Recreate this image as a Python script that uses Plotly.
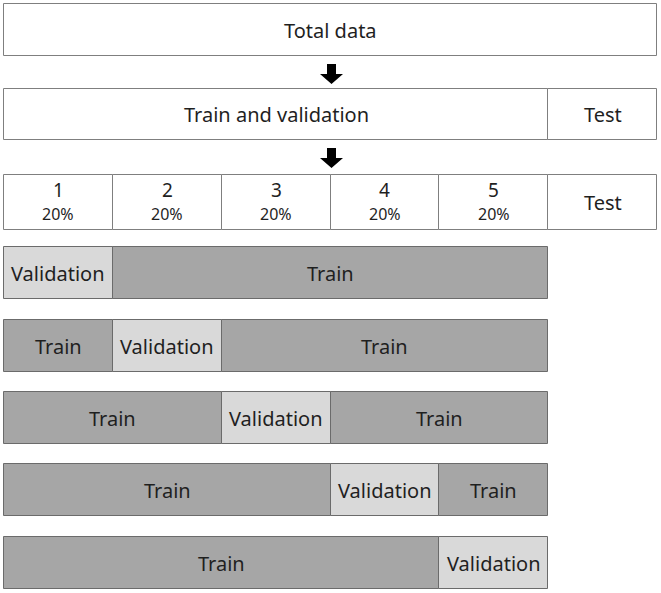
import plotly.graph_objects as go

# ---------------- data ----------------
top_label = "Total data"
split_labels = ["Train and validation", "Test"]
split_shares = [100, 20]              # percent of train+val block, test block
fold_names = ["1", "2", "3", "4", "5"]
fold_shares = [20, 20, 20, 20, 20]    # percent per fold
fold_share_labels = ["20%", "20%", "20%", "20%", "20%"]
test_label = "Test"
train_label = "Train"
val_label = "Validation"
validation_fold = [1, 2, 3, 4, 5]     # validation fold for each CV iteration

# ---------------- style / layout ----------------
W, H = 661, 593
PX_PER_UNIT = 653 / 120.0
LEFT_PX = 4
FONT = "Noto Sans"
TXT = "#1f1f1f"
EDGE_WHITE = "#7f7f7f"
EDGE_GRAY = "#6b6b6b"
TRAIN_C = "#a6a6a6"
VAL_C = "#d9d9d9"

# vertical bands (top, bottom) in pixel-like y units
band_total = (4, 56)
band_split = (89, 140)
band_folds = (175, 230)
cv_tops = [247, 320, 392, 464, 537]
cv_h = 52
arrows = [(64, 84), (148, 168)]

fig = go.Figure()


def add_segments(segs, band, edge):
    """segs: list of (start, width, fill)"""
    top, bot = band
    for start, width, fill in segs:
        fig.add_trace(go.Bar(
            orientation="h",
            y=[(top + bot) / 2], x=[width], base=[start],
            width=[bot - top],
            marker=dict(color=fill, line=dict(color=edge, width=1)),
            hoverinfo="skip", showlegend=False,
        ))


def add_text(xc, yc, text, size=20):
    fig.add_annotation(x=xc, y=yc, text=text, showarrow=False,
                       font=dict(family=FONT, size=size, color=TXT),
                       xanchor="center", yanchor="middle")


total_units = sum(split_shares)

# Total data
add_segments([(0, total_units, "white")], band_total, EDGE_WHITE)
add_text(total_units / 2, sum(band_total) / 2, top_label)

# Train/val + test
pos = 0
segs = []
for lab, sh in zip(split_labels, split_shares):
    segs.append((pos, sh, "white"))
    pos += sh
add_segments(segs, band_split, EDGE_WHITE)
pos = 0
for lab, sh in zip(split_labels, split_shares):
    add_text(pos + sh / 2, sum(band_split) / 2, lab)
    pos += sh

# Folds row
pos = 0
segs = []
for sh in fold_shares:
    segs.append((pos, sh, "white"))
    pos += sh
segs.append((pos, split_shares[1], "white"))
add_segments(segs, band_folds, EDGE_WHITE)
pos = 0
for name, sh, pl in zip(fold_names, fold_shares, fold_share_labels):
    add_text(pos + sh / 2, 190, name, 19)
    add_text(pos + sh / 2, 214, pl, 16)
    pos += sh
add_text(pos + split_shares[1] / 2, sum(band_folds) / 2, test_label)

# CV iterations
for top, vf in zip(cv_tops, validation_fold):
    band = (top, top + cv_h)
    yc = top + cv_h / 2
    vstart = sum(fold_shares[:vf - 1])
    vw = fold_shares[vf - 1]
    segs = []
    if vstart > 0:
        segs.append((0, vstart, TRAIN_C))
    segs.append((vstart, vw, VAL_C))
    rest = sum(fold_shares) - (vstart + vw)
    if rest > 0:
        segs.append((vstart + vw, rest, TRAIN_C))
    add_segments(segs, band, EDGE_GRAY)
    for s, w, c in segs:
        add_text(s + w / 2, yc, val_label if c == VAL_C else train_label)

# Arrows (block arrows pointing down)
cx = total_units / 2 + 1 / PX_PER_UNIT
sh_half = 4.5 / PX_PER_UNIT
hd_half = 11.5 / PX_PER_UNIT
for y0, y1 in arrows:
    yh = y0 + 10
    path = (f"M {cx - sh_half} {y0} L {cx + sh_half} {y0} L {cx + sh_half} {yh} "
            f"L {cx + hd_half} {yh} L {cx} {y1} L {cx - hd_half} {yh} "
            f"L {cx - sh_half} {yh} Z")
    fig.add_shape(type="path", path=path, xref="x", yref="y",
                  fillcolor="black", line=dict(width=0))

fig.update_layout(
    width=W, height=H,
    margin=dict(l=0, r=0, t=0, b=0),
    paper_bgcolor="white", plot_bgcolor="white",
    barmode="overlay", bargap=0,
    xaxis=dict(range=[-LEFT_PX / PX_PER_UNIT, (W - LEFT_PX) / PX_PER_UNIT],
               visible=False, fixedrange=True),
    yaxis=dict(range=[H, 0], visible=False, fixedrange=True),
    showlegend=False,
)

fig.write_html("out.html", config={"displayModeBar": False},
               post_script="document.body.style.margin='0px';")
